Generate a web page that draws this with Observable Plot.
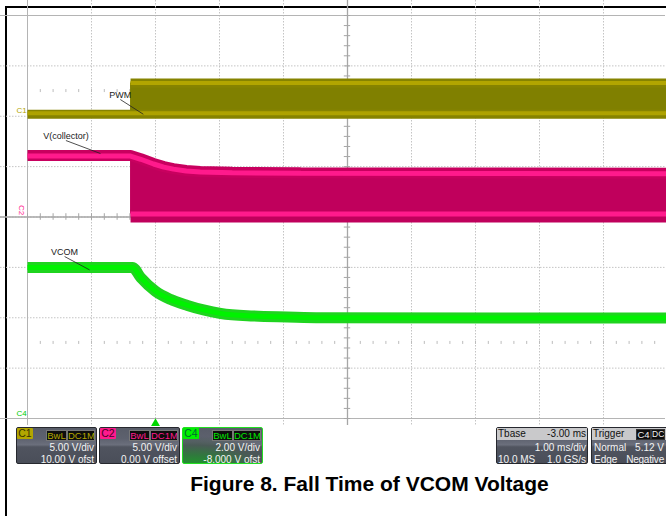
<!DOCTYPE html>
<html>
<head>
<meta charset="utf-8">
<script src="https://cdn.jsdelivr.net/npm/d3@7"></script>
<script src="https://cdn.jsdelivr.net/npm/@observablehq/plot@0.6"></script>
<style>
html, body { margin: 0; padding: 0; background: #fff; }
#page { position: relative; width: 666px; height: 516px; overflow: hidden;
  font-family: "Liberation Sans", Arial, sans-serif; }
#frame { position: absolute; left: 5px; top: 6px; width: 720px; height: 600px;
  border-left: 2px solid #000; border-top: 2px solid #000; }
#chart { position: absolute; left: 0; top: 0; }
#chart svg { display: block; }
.box { position: absolute; top: 427px; height: 35px; border: 1px solid #26282e;
  border-radius: 2px; color: #f4f4f4; font-size: 10px; line-height: 12px; white-space: nowrap;
  background: linear-gradient(to bottom, #585c68 0%, #5d616e 30%, #6b6f7c 48%, #50545f 54%, #4a4e59 100%); }
.box .t { position: absolute; }
.badge { position: absolute; left: 0; top: 0; width: 16px; height: 11px; line-height: 11px;
  text-align: center; color: #2a2a10; font-size: 10.5px; border-radius: 1px; }
.cp { position: absolute; top: 2px; height: 9px; line-height: 9px; background: #0d0d0d;
  border: 1px solid #777; text-align: center; font-size: 9.5px; overflow: hidden; }
.hdrLight { position: absolute; left: 0; top: 0; right: 0; height: 12px; background: #c9c9cb; color: #111; }
#caption { position: absolute; left: 0; top: 472px; width: 739px; text-align: center;
  font-weight: bold; font-size: 21px; line-height: 24px; color: #000; }
</style>
</head>
<body>
<div id="page">
  <div id="frame"></div>
  <div id="chart"></div>
  <div id="caption"></div>
</div>
<script>
// ---------- scope settings ----------
const chNames        = ["C1", "C2", "C4"];
const chVoltsPerDiv  = [5, 5, 2];
const chOffsetV      = [10, 0, -8];
const chVdivText     = ["5.00 V/div", "5.00 V/div", "2.00 V/div"];
const chOffsetText   = ["10.00 V ofst", "0.00 V offset", "-8.000 V ofst"];
const chCouplingText = ["BwL", "DC1M"];
const chColors       = ["#b3a600", "#ff1a8c", "#00e800"];
const tbaseText      = ["Tbase", "-3.00 ms", "1.00 ms/div", "10.0 MS", "1.0 GS/s"];
const triggerText    = ["Trigger", "C4", "DC", "Normal", "5.12 V", "Edge", "Negative"];
const captionText    = "Figure 8. Fall Time of VCOM Voltage";

// ---------- graticule (ms and divisions) ----------
const timeDomain = [-2, 8];       // 1 ms/div, trigger at 0
const divDomain  = [-4, 4];
const gridT    = d3.range(-2, 8.001, 1);
const gridDiv  = d3.range(-4, 4.001, 1);
const minorT   = d3.range(-2, 8.001, 0.2);
const minorDiv = d3.range(-4, 4.001, 0.2);
const triggerT = [0];

// ---------- traces (ms, volts) ----------
const tSwitch = -0.39;
// C1 PWM (envelope of the switching waveform)
const pwmT    = [-2, tSwitch, tSwitch, 8];
const pwmLow  = [0.2, 0.2, 0.2, 0.2];
const pwmHigh = [0.2, 0.2, 3.3, 3.3];
// C2 V(collector) envelope
const colT    = [-2, tSwitch, tSwitch, -0.23, -0.03, 0.13, 0.28, 0.48, 0.7, 1.2, 2.27, 8];
const colHigh = [6.1, 6.1, 6.1, 5.78, 5.31, 5.0, 4.8, 4.62, 4.52, 4.45, 4.38, 4.35];
const colLow  = [6.1, 6.1, 0.3, 0.3, 0.3, 0.3, 0.3, 0.3, 0.3, 0.3, 0.3, 0.3];
// C4 VCOM
const vcomT = [-2, -0.36, -0.23, 0, 0.23, 0.5, 0.75, 1.02, 1.53, 2.06, 2.58, 8];
const vcomV = [6.0, 6.0, 5.59, 5.05, 4.73, 4.49, 4.31, 4.17, 4.07, 4.03, 4.0, 3.99];

// ---------- trace labels ----------
const labelText = ["PWM", "V(collector)", "VCOM"];
const labelCh   = [0, 1, 2];
const labelT    = [-0.55, -1.40, -1.42];
const labelV    = [1.66, 7.59, 6.43];
const leaderT   = [-0.19, -0.86, -1.03];
const leaderV   = [0.2, 6.3, 5.9];

// ---------- build ----------
const toDiv = (ch, v) => (v + chOffsetV[ch]) / chVoltsPerDiv[ch];

const pwm = pwmT.map((t, i) => ({t, lo: toDiv(0, pwmLow[i]), hi: toDiv(0, pwmHigh[i])}));
const pwmOn = pwm.slice(2);
const col = colT.map((t, i) => ({t, lo: toDiv(1, colLow[i]), hi: toDiv(1, colHigh[i])}));
const colOn = col.slice(2);
const vcom = vcomT.map((t, i) => ({t, y: toDiv(2, vcomV[i])}));
const labels = labelText.map((text, i) => ({
  text, t: labelT[i], y: toDiv(labelCh[i], labelV[i]),
  t2: leaderT[i], y2: toDiv(labelCh[i], leaderV[i])
}));
const markers = chNames.map((name, i) => ({name, gnd: toDiv(i, 0)}));

const butt = {strokeLinecap: "butt", strokeLinejoin: "miter"};
const gridStyle = {stroke: "#c4c4c4", strokeDasharray: "1.5 1.5", strokeWidth: 1};

const svg = Plot.plot({
  width: 666,
  height: 426,
  style: {background: "transparent", overflow: "visible", fontFamily: "Liberation Sans, Arial, sans-serif"},
  x: {domain: timeDomain, range: [27, 667], axis: null},
  y: {domain: divDomain, range: [418, 15], axis: null},
  marks: [
    // graticule
    Plot.ruleX(gridT, gridStyle),
    Plot.ruleY(gridDiv, gridStyle),
    Plot.ruleX(minorT, {y1: 2.47, y2: 2.53, stroke: "#bcbcbc"}),
    Plot.ruleX(minorT, {y1: -2.53, y2: -2.47, stroke: "#bcbcbc"}),
    Plot.ruleX([timeDomain[0]], {stroke: "#b4b4b4"}),
    Plot.ruleY(divDomain, {stroke: "#b4b4b4"}),
    Plot.ruleX([3], {stroke: "#a6a6a6", strokeWidth: 1.3}),
    Plot.ruleY([0], {stroke: "#a6a6a6", strokeWidth: 1.3}),
    Plot.ruleX(minorT, {y1: -0.065, y2: 0.065, stroke: "#a6a6a6"}),
    Plot.ruleY(minorDiv, {x1: 3 - 0.05, x2: 3 + 0.05, stroke: "#a6a6a6"}),

    // C1 PWM
    Plot.areaY(pwmOn, {x: "t", y1: "lo", y2: "hi", fill: "#808000"}),
    Plot.line(pwmOn, {x: "t", y: "hi", stroke: "#868300", strokeWidth: 9, ...butt}),
    Plot.line(pwm, {x: "t", y: "lo", stroke: "#868300", strokeWidth: 9, ...butt}),
    Plot.line(pwmOn, {x: "t", y: "hi", stroke: "#b2a500", strokeWidth: 4, ...butt}),
    Plot.line(pwm, {x: "t", y: "lo", stroke: "#aea200", strokeWidth: 4, dy: -1, ...butt}),

    // C2 V(collector)
    Plot.areaY(colOn, {x: "t", y1: "lo", y2: "hi", fill: "#c0005c"}),
    Plot.line(col, {x: "t", y: "hi", stroke: "#c8005f", strokeWidth: 11, ...butt}),
    Plot.line(colOn, {x: "t", y: "lo", stroke: "#c0005c", strokeWidth: 13, dy: 2, ...butt}),
    Plot.line(col, {x: "t", y: "hi", stroke: "#ff1a8c", strokeWidth: 5, dy: 0.5, ...butt}),
    Plot.line(colOn, {x: "t", y: "lo", stroke: "#ff1a8c", strokeWidth: 5, ...butt}),

    // C4 VCOM
    Plot.line(vcom, {x: "t", y: "y", stroke: "#1fd41f", strokeWidth: 11, curve: "monotone-x", ...butt}),
    Plot.line(vcom, {x: "t", y: "y", stroke: "#00f200", strokeWidth: 5, curve: "monotone-x", ...butt}),

    // trace labels
    Plot.link(labels, {x1: "t", y1: "y", x2: "t2", y2: "y2", stroke: "#222", strokeWidth: 0.8}),
    Plot.text(labels, {x: "t", y: "y", text: "text", fill: "#1a1a1a", fontSize: 9,
      lineAnchor: "bottom", dy: -2, ariaLabel: "trace label"}),

    // channel ground markers
    Plot.text(markers.filter(d => d.name === "C1"), {x: timeDomain[0], y: "gnd", text: "name",
      fill: chColors[0], fontSize: 8, lineAnchor: "bottom", dx: -6, dy: -3, ariaLabel: "ch marker"}),
    Plot.text(markers.filter(d => d.name === "C2"), {x: timeDomain[0], y: "gnd", text: "name",
      fill: chColors[1], fontSize: 8, rotate: 90, lineAnchor: "middle", dx: -6, dy: -7, ariaLabel: "ch marker"}),
    Plot.text(markers.filter(d => d.name === "C4"), {x: timeDomain[0], y: "gnd", text: "name",
      fill: "#00cc00", fontSize: 8, lineAnchor: "bottom", dx: -6, dy: -3, ariaLabel: "ch marker"}),

    // trigger position marker
    Plot.dot(triggerT, {x: d => d, y: divDomain[0], dy: 5, symbol: "triangle", r: 3.3, fill: "#00d800", stroke: null})
  ]
});
document.getElementById("chart").appendChild(svg);
d3.select(svg).selectAll('g[aria-label="trace label"] text')
  .style("text-decoration", "underline");
d3.select(svg).selectAll('g[aria-label="ch marker"] text')
  .style("text-decoration", "underline").style("text-decoration-thickness", "1.5px");

// ---------- info boxes ----------
const page = document.getElementById("page");
function add(parent, cls, css, text) {
  const e = document.createElement("div");
  if (cls) e.className = cls;
  e.style.cssText = css;
  if (text != null) e.textContent = text;
  parent.appendChild(e);
  return e;
}
const boxLefts = [16, 99, 182];
chNames.forEach((name, i) => {
  let bg = "";
  let border = "";
  if (i === 2) {
    bg = "background: radial-gradient(ellipse 90px 30px at 10px 38px, #1e9a2a 0%, #2f7a3c 35%, #4a5a56 70%, rgba(74,78,89,0) 100%), linear-gradient(to bottom, #585c68 0%, #5d616e 30%, #6b6f7c 48%, #50545f 54%, #4a4e59 100%);";
    border = "border-color:#22dd22;";
  }
  const b = add(page, "box", `left:${boxLefts[i]}px;width:79px;${bg}${border}`);
  add(b, "badge", `background:${i === 2 ? "#00f000" : chColors[i]};color:${i === 1 ? "#4a0025" : (i === 2 ? "#063" : "#3a3400")}`, name);
  add(b, "cp", `left:29px;width:19px;color:${chColors[i]}`, chCouplingText[0]);
  add(b, "cp", `left:50px;width:26px;color:${chColors[i]}`, chCouplingText[1]);
  add(b, "t", "right:2px;top:13.5px", chVdivText[i]);
  add(b, "t", "right:2px;top:25.5px", chOffsetText[i]);
});

// Tbase box
const tb = add(page, "box", "left:496px;width:90px");
const tbh = add(tb, "hdrLight", "");
add(tbh, "t", "left:1px;top:0", tbaseText[0]);
add(tbh, "t", "right:1px;top:0", tbaseText[1]);
add(tb, "t", "right:1px;top:13.5px", tbaseText[2]);
add(tb, "t", "left:1px;top:25.5px", tbaseText[3]);
add(tb, "t", "right:1px;top:25.5px", tbaseText[4]);

// Trigger box (runs off the right edge like the reference; texts kept inside the window)
const tr = add(page, "box", "left:591px;width:84px");
const trh = add(tr, "hdrLight", "");
add(trh, "t", "left:1px;top:0", triggerText[0]);
add(trh, "cp", "left:44px;top:1px;width:13px;height:9px;color:#f0f0f0;border-color:#333", triggerText[1]);
add(trh, "cp", "left:59px;top:1px;width:12px;height:9px;color:#f0f0f0;border-color:#333;font-size:8.5px", triggerText[2]);
add(tr, "t", "left:2px;top:13.5px", triggerText[3]);
add(tr, "t", "right:12px;top:13.5px", triggerText[4]);
add(tr, "t", "left:2px;top:25.5px", triggerText[5]);
add(tr, "t", "right:12px;top:25.5px;letter-spacing:-0.2px", triggerText[6]);

document.getElementById("caption").textContent = captionText;
</script>
</body>
</html>
